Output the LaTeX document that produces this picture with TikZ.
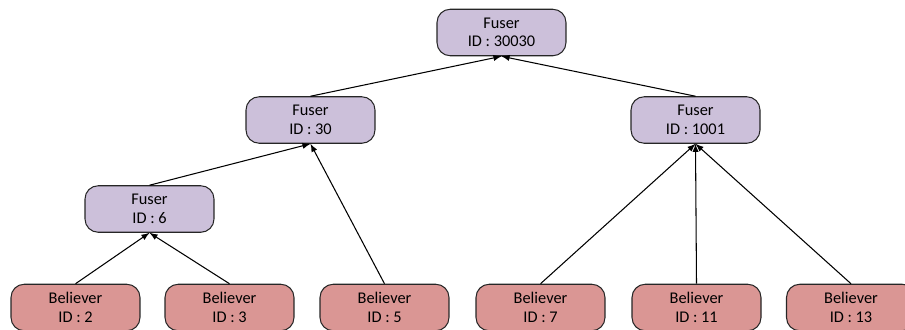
\documentclass[tikz,border=0pt]{standalone}
\usepackage{fontspec}
\setmainfont{Carlito}
\usepackage{xcolor}
\usetikzlibrary{arrows}

\definecolor{fuserfill}{HTML}{CCC0DA}
\definecolor{believerfill}{HTML}{DA9694}

\tikzset{
    box/.style={draw=black!85,line width=0.6pt,rounded corners=7.5pt,
        minimum width=2.58cm,minimum height=0.93cm,inner sep=0pt,
        align=center,font=\fontsize{9.3}{10.6}\selectfont},
    fuser/.style={box,fill=fuserfill},
    believer/.style={box,fill=believerfill},
    link/.style={-latex,line width=0.6pt}
}

\begin{document}
\begin{tikzpicture}[x=0.02cm,y=-0.02cm]
        \useasboundingbox (0,0) rectangle (905,329);
        % fusers
        \node[fuser] (f30030) at (501.5,32.5) {Fuser\\ID : 30030};
        \node[fuser] (f30) at (310.5,120) {Fuser\\ID : 30};
        \node[fuser] (f1001) at (695.5,120) {Fuser\\ID : 1001};
        \node[fuser] (f6) at (149.5,209) {Fuser\\ID : 6};
        % believers
        \foreach \x/\id in {75.5/2,229.5/3,384.5/5,540.5/7,696.5/11,851/13}{
            \node[believer] (b\id) at (\x,307.5) {Believer\\ID : \id};
        }
        % links
        \foreach \c/\p in {b2/f6,b3/f6,b5/f30,f6/f30,b7/f1001,b11/f1001,b13/f1001,f30/f30030,f1001/f30030}{
            \draw[link] (\c.north) -- (\p.south);
        }
    \end{tikzpicture}
\end{document}
